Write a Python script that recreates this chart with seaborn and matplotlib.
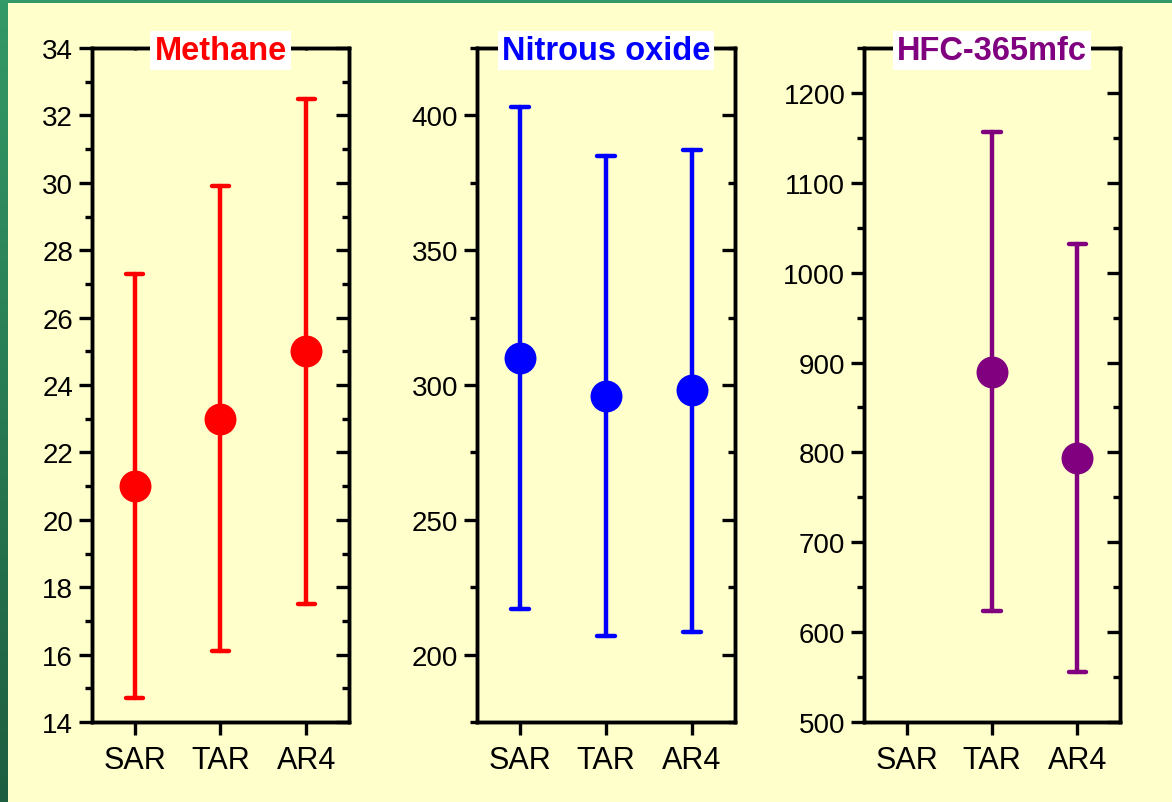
import numpy as np
import pandas as pd
import matplotlib
matplotlib.use("Agg")
import matplotlib.pyplot as plt
import seaborn as sns
from matplotlib.ticker import MultipleLocator
from matplotlib.patches import Rectangle
from matplotlib.colors import LinearSegmentedColormap

# ---------------- data ----------------
categories = ["SAR", "TAR", "AR4"]

methane_gwp = [21, 23, 25]
methane_low = [14.7, 16.1, 17.5]
methane_high = [27.3, 29.9, 32.5]

n2o_gwp = [310, 296, 298]
n2o_low = [217, 207, 208.5]
n2o_high = [403, 385, 387]

hfc_gwp = [np.nan, 890, 794]
hfc_low = [np.nan, 623, 556]
hfc_high = [np.nan, 1157, 1032]

titles = ["Methane", "Nitrous oxide", "HFC-365mfc"]

# ---------------- style ----------------
BG = "#FFFFCC"
colors = ["#FF0000", "#0000FF", "#800080"]
y_limits = [(14, 34), (175, 425), (500, 1250)]
y_major = [2, 50, 100]
y_minor = [1, 25, 50]

sns.set_style("ticks", {"axes.edgecolor": "black", "xtick.color": "black",
                        "ytick.color": "black", "text.color": "black",
                        "axes.labelcolor": "black"})
plt.rcParams["font.family"] = ["Liberation Sans", "DejaVu Sans"]


def long_frame(low, mid, high):
    rows = []
    for c, lo, m, hi in zip(categories, low, mid, high):
        for v in (lo, m, hi):
            rows.append({"cat": c, "val": v})
    return pd.DataFrame(rows)


series = [
    (methane_low, methane_gwp, methane_high),
    (n2o_low, n2o_gwp, n2o_high),
    (hfc_low, hfc_gwp, hfc_high),
]

W, H = 1172, 803
fig = plt.figure(figsize=(W / 100, H / 100), dpi=100, facecolor=BG)

# green frame (left gradient strip + top strip)
grad_ax = fig.add_axes([0, 0, 8 / W, 1])
grad = np.linspace(0, 1, 256).reshape(-1, 1)
cmap = LinearSegmentedColormap.from_list("g", ["#1E5E40", "#339966"])
grad_ax.imshow(grad, aspect="auto", cmap=cmap, origin="lower")
grad_ax.set_axis_off()
fig.patches.append(Rectangle((0, 1 - 4 / H), 1, 4 / H, transform=fig.transFigure,
                             facecolor="#339966", edgecolor="none", zorder=0))

panel_lefts = [92, 477, 864]
panel_rights = [349, 735, 1120]
top_px, bot_px = 49, 723

lw_spine = 2.4
for i in range(3):
    l, r = panel_lefts[i], panel_rights[i]
    ax = fig.add_axes([l / W, (H - bot_px) / H, (r - l) / W, (bot_px - top_px) / H])
    ax.set_facecolor(BG)
    lo, mid, hi = series[i]
    df = long_frame(lo, mid, hi)
    sns.pointplot(data=df, x="cat", y="val", order=categories, ax=ax,
                  estimator="median",
                  errorbar=lambda v: (np.min(v), np.max(v)),
                  color=colors[i], linestyle="none", marker="o",
                  markersize=23, markeredgewidth=0, capsize=0.2,
                  err_kws={"linewidth": 3.2})
    ax.set_xlim(-0.5, 2.5)
    ax.set_ylim(*y_limits[i])
    ax.yaxis.set_major_locator(MultipleLocator(y_major[i]))
    ax.yaxis.set_minor_locator(MultipleLocator(y_minor[i]))
    ax.set_xlabel("")
    ax.set_ylabel("")
    for s in ax.spines.values():
        s.set_visible(True)
        s.set_linewidth(lw_spine)
        s.set_color("black")
    ax.tick_params(axis="y", which="major", direction="out", length=9.5, width=lw_spine,
                   labelsize=20, pad=4, left=True, right=False, colors="black")
    ax.tick_params(axis="y", which="minor", direction="out", length=5, width=lw_spine,
                   left=True, right=False, colors="black")
    ax.tick_params(axis="x", which="major", direction="out", length=9.5, width=lw_spine,
                   labelsize=22, pad=7, bottom=True, top=False, colors="black")
    ax.tick_params(axis="x", which="minor", bottom=False, top=False)

    # right-side inward ticks
    axr = ax.twinx()
    axr.set_ylim(*y_limits[i])
    axr.yaxis.set_major_locator(MultipleLocator(y_major[i]))
    axr.yaxis.set_minor_locator(MultipleLocator(y_minor[i]))
    axr.tick_params(axis="y", which="major", direction="in", length=9.5, width=lw_spine,
                    labelright=False, right=True, colors="black")
    axr.tick_params(axis="y", which="minor", direction="in", length=5, width=lw_spine,
                    right=True, colors="black")
    for s in axr.spines.values():
        s.set_linewidth(lw_spine)
        s.set_color("black")

    # top tiny inward ticks
    axt = ax.twiny()
    axt.set_xlim(-0.5, 2.5)
    axt.set_xticks([0, 1, 2])
    axt.tick_params(axis="x", direction="in", length=1.5, width=lw_spine, labeltop=False,
                    top=True, colors="black")
    for s in axt.spines.values():
        s.set_linewidth(lw_spine)
        s.set_color("black")

    axt.text(0.5, 1 - 11 / (bot_px - top_px), titles[i], transform=ax.transAxes,
             ha="center", va="baseline", fontsize=23.5, fontweight="bold",
             color=colors[i], zorder=20, clip_on=False,
             bbox=dict(facecolor="white", edgecolor="none", pad=3))

fig.savefig("out.png", dpi=100, facecolor=BG)
